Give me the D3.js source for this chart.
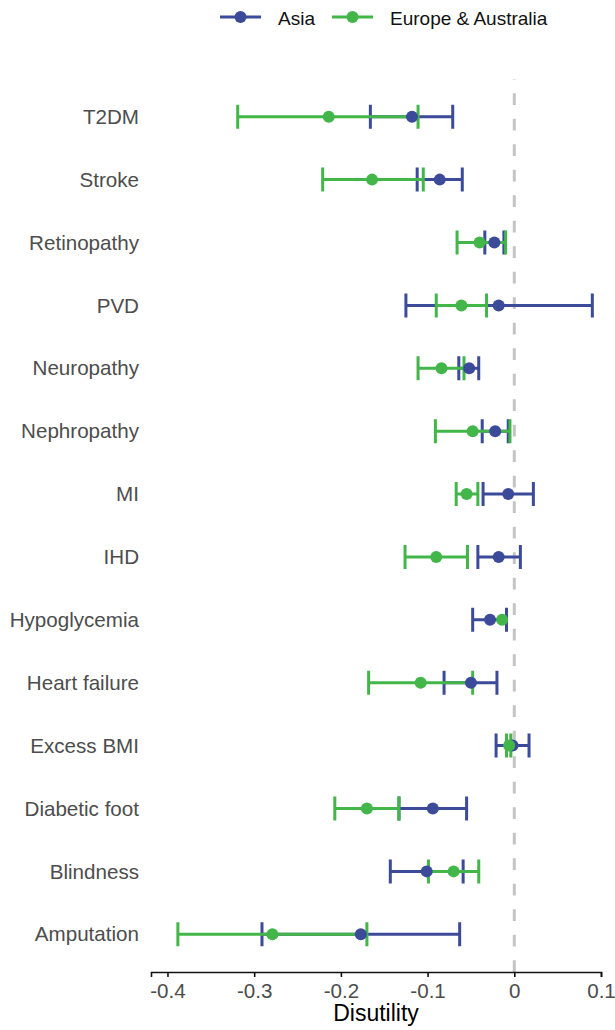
<!DOCTYPE html>
<html>
<head>
<meta charset="utf-8">
<script src="https://cdn.jsdelivr.net/npm/d3@7"></script>
<style>
  body { margin: 0; background: #fff; }
  svg text { font-family: 'Liberation Sans', Arial, sans-serif; }
</style>
</head>
<body>
<div id="chart"></div>
<script>
const categories = ['T2DM', 'Stroke', 'Retinopathy', 'PVD', 'Neuropathy', 'Nephropathy', 'MI', 'IHD',
  'Hypoglycemia', 'Heart failure', 'Excess BMI', 'Diabetic foot', 'Blindness', 'Amputation'];

const asiaMean = [-0.118, -0.086, -0.023, -0.018, -0.052, -0.022, -0.007, -0.018, -0.028, -0.050, -0.002, -0.094, -0.101, -0.177];
const asiaLow  = [-0.166, -0.112, -0.034, -0.125, -0.064, -0.037, -0.036, -0.042, -0.048, -0.081, -0.021, -0.133, -0.143, -0.291];
const asiaHigh = [-0.071, -0.060, -0.012, 0.090, -0.041, -0.007, 0.022, 0.007, -0.009, -0.020, 0.017, -0.055, -0.059, -0.063];

// Hypoglycemia has no interval for Europe & Australia
const euMean = [-0.214, -0.164, -0.040, -0.061, -0.084, -0.048, -0.055, -0.090, -0.014, -0.108, -0.006, -0.170, -0.070, -0.279];
const euLow  = [-0.319, -0.221, -0.066, -0.090, -0.111, -0.091, -0.067, -0.126, null, -0.168, -0.009, -0.207, -0.099, -0.388];
const euHigh = [-0.111, -0.105, -0.010, -0.032, -0.058, -0.005, -0.042, -0.054, null, -0.048, -0.004, -0.133, -0.041, -0.170];

const xTicks = [-0.4, -0.3, -0.2, -0.1, 0, 0.1];
const xTickLabels = ['-0.4', '-0.3', '-0.2', '-0.1', '0', '0.1'];
const seriesNames = ['Asia', 'Europe & Australia'];
const seriesColors = ['#3c4b99', '#43b64a'];

const width = 615;
const height = 1030;
const panel = { left: 151, right: 601, top: 79, bottom: 972 };

const svg = d3.select('#chart')
  .append('svg')
    .attr('width', width)
    .attr('height', height);

const x = d3.scaleLinear()
    .domain([-0.419, 0.1])
    .range([panel.left, panel.right]);

const y = d3.scalePoint()
    .domain(categories)
    .range([panel.top, panel.bottom])
    .padding(0.6);

const series = [asiaMean, euMean].map((means, s) => {
  const lows = s === 0 ? asiaLow : euLow;
  const highs = s === 0 ? asiaHigh : euHigh;
  return categories.map((c, i) => ({ cat: c, mean: means[i], low: lows[i], high: highs[i], s: s }));
});

// reference line at zero
svg.append('line')
    .attr('x1', x(0))
    .attr('x2', x(0))
    .attr('y1', panel.top)
    .attr('y2', panel.bottom)
    .attr('stroke', '#c4c4c4')
    .attr('stroke-width', 3)
    .attr('stroke-dasharray', '11.7,13.8')
    .attr('stroke-dashoffset', 11.2);

// category labels
svg.append('g')
    .attr('class', 'y-labels')
  .selectAll('text')
  .data(categories)
  .enter().append('text')
    .attr('x', 139)
    .attr('y', (d) => y(d))
    .attr('dy', '0.35em')
    .attr('text-anchor', 'end')
    .attr('font-size', 20.6)
    .attr('fill', '#4d4d4d')
    .text((d) => d);

const capHalf = 12;

// error bars, blue first then green
series.forEach((rows) => {
  const g = svg.append('g')
      .attr('class', 'errorbars')
      .attr('stroke', seriesColors[rows[0].s])
      .attr('stroke-width', 3)
      .attr('fill', 'none');

  g.selectAll('path')
    .data(rows.filter((d) => d.low !== null && d.high !== null))
    .enter().append('path')
      .attr('d', (d) => {
        const yy = y(d.cat);
        const x0 = x(d.low), x1 = x(d.high);
        return 'M' + x0 + ',' + (yy - capHalf) + 'V' + (yy + capHalf) +
          'M' + x0 + ',' + yy + 'H' + x1 +
          'M' + x1 + ',' + (yy - capHalf) + 'V' + (yy + capHalf);
      });
});

// points
series.forEach((rows) => {
  svg.append('g')
      .attr('class', 'points')
    .selectAll('circle')
    .data(rows)
    .enter().append('circle')
      .attr('cx', (d) => x(d.mean))
      .attr('cy', (d) => y(d.cat))
      .attr('r', 6)
      .attr('fill', seriesColors[rows[0].s]);
});

// x axis
const xAxis = svg.append('g')
    .attr('class', 'axis-x')
    .attr('transform', 'translate(0,' + panel.bottom + ')')
    .call(d3.axisBottom(x)
      .tickValues(xTicks)
      .tickFormat((d, i) => xTickLabels[i])
      .tickSize(5)
      .tickSizeOuter(5)
      .tickPadding(6));

xAxis.select('.domain')
    .attr('stroke', '#111')
    .attr('stroke-width', 1.6);
xAxis.selectAll('.tick line')
    .attr('stroke', '#111')
    .attr('stroke-width', 1.6);
xAxis.selectAll('.tick text')
    .attr('font-size', 20.6)
    .attr('font-family', "'Liberation Sans', Arial, sans-serif")
    .attr('fill', '#4d4d4d');

svg.append('text')
    .attr('x', (panel.left + panel.right) / 2)
    .attr('y', 1021)
    .attr('text-anchor', 'middle')
    .attr('font-size', 23)
    .attr('fill', '#000')
    .text('Disutility');

// legend
const legendX = [220, 332];
const legend = svg.append('g')
    .attr('class', 'legend')
  .selectAll('g')
  .data(seriesNames)
  .enter().append('g')
    .attr('transform', (d, i) => 'translate(' + legendX[i] + ',17)');

legend.append('line')
    .attr('x1', 0)
    .attr('x2', 41)
    .attr('stroke', (d, i) => seriesColors[i])
    .attr('stroke-width', 3);

legend.append('circle')
    .attr('cx', 20.5)
    .attr('r', 6)
    .attr('fill', (d, i) => seriesColors[i]);

legend.append('text')
    .attr('x', 58)
    .attr('y', 8)
    .attr('font-size', 19)
    .attr('fill', '#111')
    .text((d) => d);
</script>
</body>
</html>
